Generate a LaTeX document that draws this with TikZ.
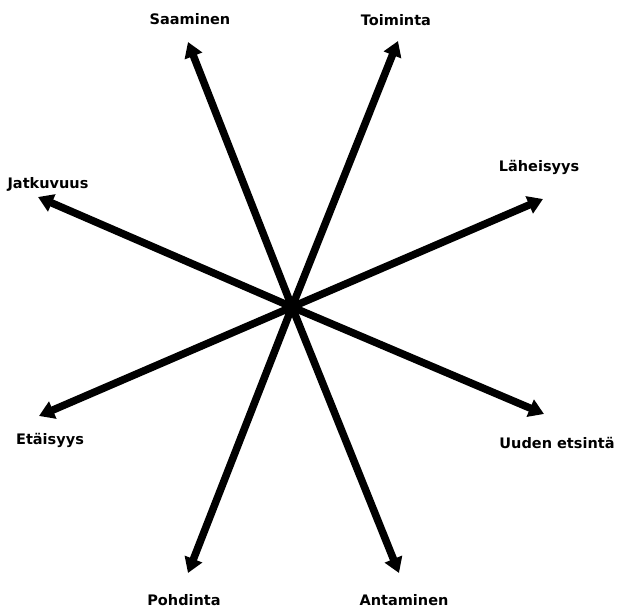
\documentclass[tikz,border=0pt]{standalone}
\usepackage{fontspec}
\setmainfont{DejaVu Sans}
\usetikzlibrary{arrows.meta}
\begin{document}
\begin{tikzpicture}[x=1pt,y=-1pt,
  spoke/.style={line width=7.5pt,-{Triangle[width=18pt,length=15pt]}},
  lbl/.style={font=\bfseries\fontsize{14.5}{17}\selectfont,inner sep=0pt}]
\useasboundingbox[fill=white] (0,0) rectangle (618,609);
\coordinate (c) at (292,307);
\coordinate (t1) at (188,42);
\coordinate (t2) at (398,41);
\coordinate (t3) at (543,199);
\coordinate (t4) at (544,414);
\coordinate (t5) at (399,573);
\coordinate (t6) at (188,573);
\coordinate (t7) at (39,416);
\coordinate (t8) at (38,197);
\foreach \t in {t1,t2,t3,t4,t5,t6,t7,t8} \draw[spoke] (c) -- (\t);
\node[lbl] (saaminen) at (190,19) {Saaminen};
\node[lbl] (toiminta) at (396,20) {Toiminta};
\node[lbl] (laheisyys) at (539,167) {Läheisyys};
\node[lbl] (jatkuvuus) at (48,184) {Jatkuvuus};
\node[lbl] (etaisyys) at (50,440) {Etäisyys};
\node[lbl] (uuden) at (557,443) {Uuden etsintä};
\node[lbl] (pohdinta) at (184,600) {Pohdinta};
\node[lbl] (antaminen) at (404,600) {Antaminen};
\end{tikzpicture}
\end{document}
